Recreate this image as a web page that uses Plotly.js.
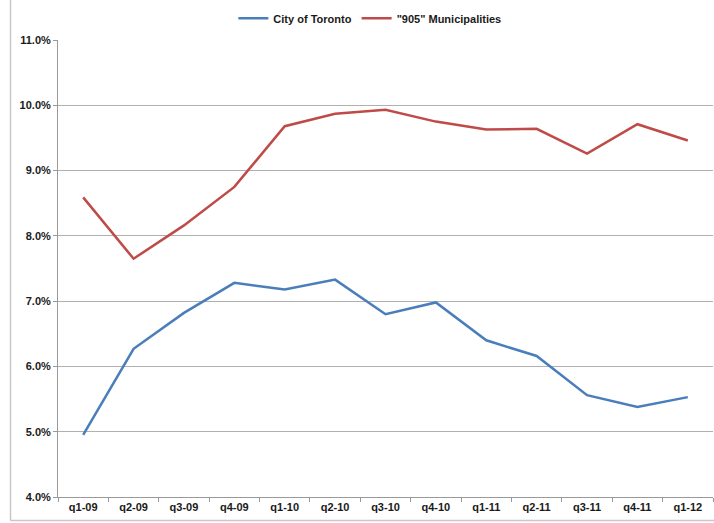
<!DOCTYPE html>
<html>
<head>
<meta charset="utf-8">
<script src="https://cdn.plot.ly/plotly-3.0.1.min.js"></script>
<style>html,body{margin:0;padding:0;background:#fff;}#chart{width:714px;height:523px;}</style>
</head>
<body>
<div id="chart"></div>
<script>
var quarters = ["q1-09","q2-09","q3-09","q4-09","q1-10","q2-10","q3-10","q4-10","q1-11","q2-11","q3-11","q4-11","q1-12"];
var toronto = [4.95, 6.27, 6.82, 7.28, 7.18, 7.33, 6.80, 6.98, 6.40, 6.16, 5.56, 5.38, 5.53];
var muni905 = [8.59, 7.65, 8.16, 8.75, 9.68, 9.87, 9.93, 9.75, 9.63, 9.64, 9.26, 9.71, 9.46];
var yTicks = [4, 5, 6, 7, 8, 9, 10, 11];

var font = {family: "Liberation Sans, Arial, sans-serif", size: 11, color: "#1a1a1a"};
var traces = [
  {x: quarters, y: toronto, type: "scatter", mode: "lines", name: "<b>City of Toronto</b>",
   line: {color: "#4a7ebb", width: 2.5}},
  {x: quarters, y: muni905, type: "scatter", mode: "lines", name: "<b>\"905\" Municipalities</b>",
   line: {color: "#be4b48", width: 2.5}}
];
var layout = {
  width: 714, height: 523,
  margin: {l: 58, r: 1, t: 40, b: 26},
  paper_bgcolor: "#fff", plot_bgcolor: "#fff",
  font: font,
  showlegend: true,
  legend: {orientation: "h", xref: "container", yref: "container", x: 0.518, xanchor: "center",
           y: 0.965, yanchor: "middle", font: {family: font.family, size: 11, color: "#1a1a1a"},
           itemwidth: 30, tracegroupgap: 0, bgcolor: "rgba(0,0,0,0)"},
  xaxis: {type: "category", range: [-0.5, 12.5], showgrid: false, zeroline: false,
          showline: true, linecolor: "#999", linewidth: 1,
          ticks: "outside", tickson: "boundaries", ticklen: 4, tickcolor: "#999",
          tickfont: {family: font.family, size: 11, color: "#1a1a1a", weight: "bold"},
          fixedrange: true},
  yaxis: {range: [4, 11], tickvals: yTicks, ticktext: yTicks.map(function(v){return "<b>" + v.toFixed(1) + "%</b>";}),
          showgrid: true, gridcolor: "#b0b0b0", gridwidth: 1, zeroline: false,
          showline: true, linecolor: "#999", linewidth: 1,
          ticks: "outside", ticklen: 4, tickcolor: "#999",
          tickfont: {family: font.family, size: 11, color: "#1a1a1a"}, fixedrange: true},
  shapes: [
    {type: "line", xref: "paper", yref: "paper", x0: (10.5 - 58) / 655, x1: (10.5 - 58) / 655,
     y0: (497 - 0) / 457, y1: (497 - 520.5) / 457, line: {color: "#c8c8c8", width: 1.5}},
    {type: "line", xref: "paper", yref: "paper", x0: (10.5 - 58) / 655, x1: (714 - 58) / 655,
     y0: (497 - 520.5) / 457, y1: (497 - 520.5) / 457, line: {color: "#c8c8c8", width: 1.5}}
  ]
};
Plotly.newPlot("chart", traces, layout, {displayModeBar: false, staticPlot: true});
</script>
</body>
</html>
